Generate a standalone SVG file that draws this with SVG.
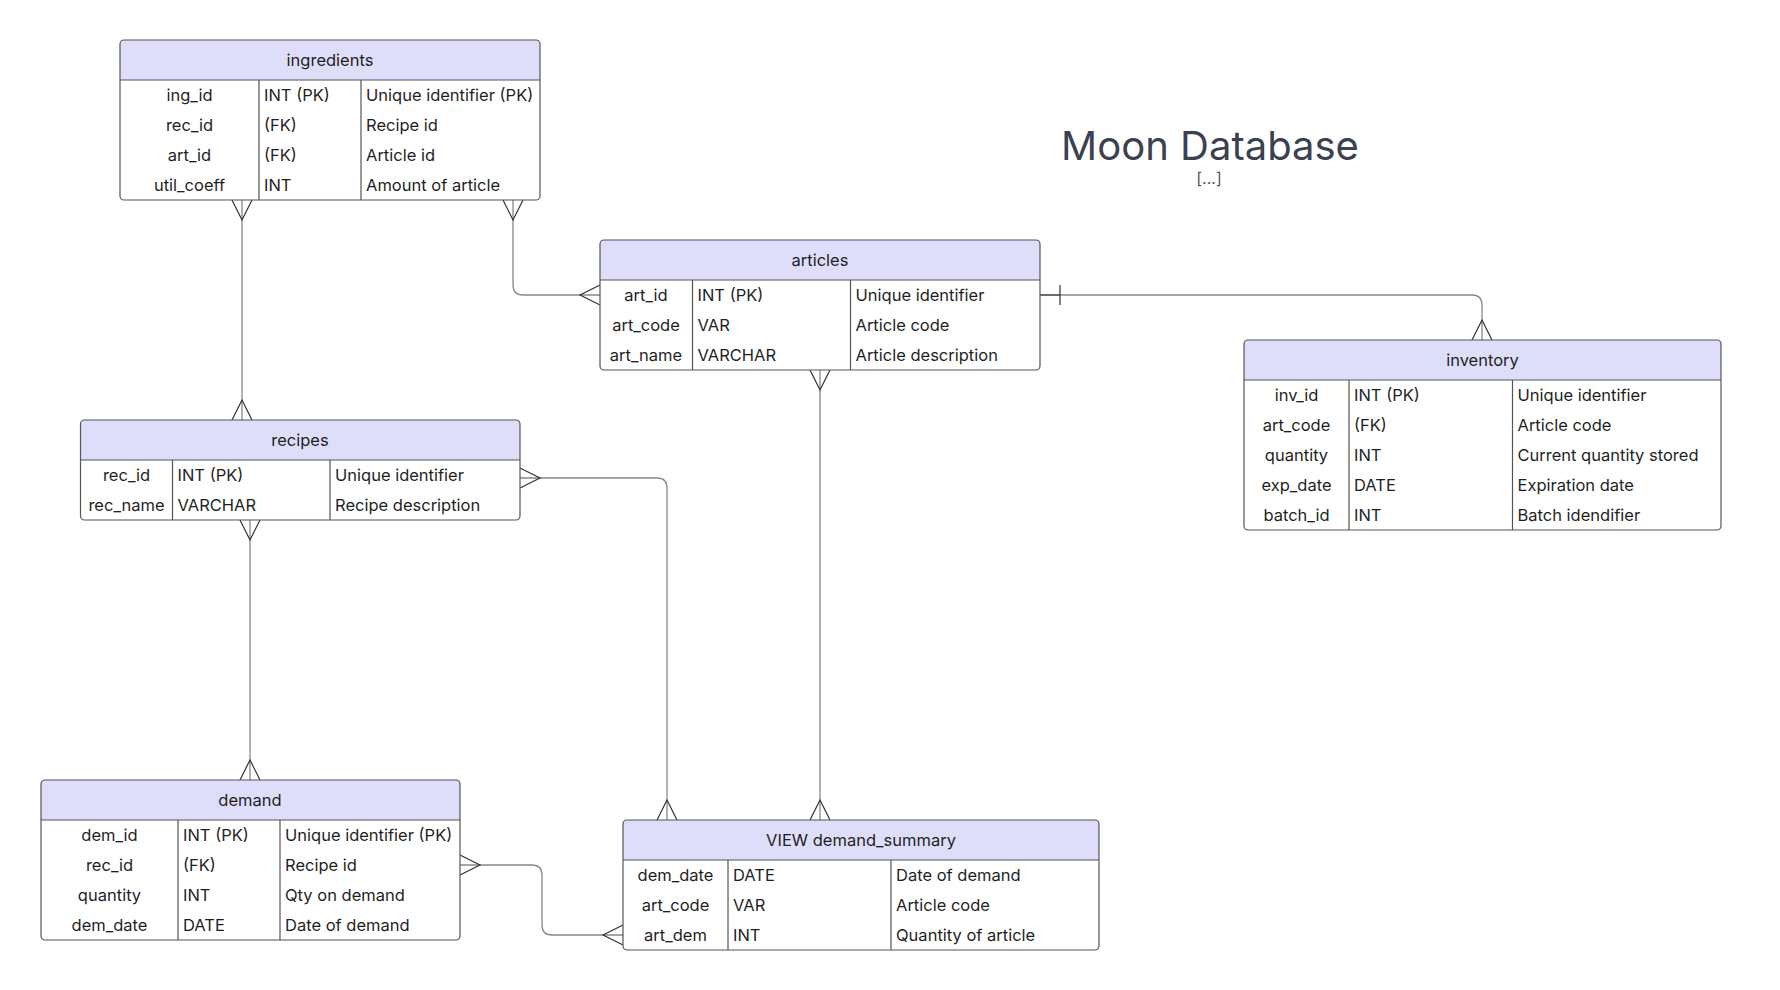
<svg xmlns="http://www.w3.org/2000/svg" width="1780" height="990" viewBox="0 0 1780 990">
<defs>
<style>
text{font-family:Inter,"Noto Sans","Liberation Sans",sans-serif;fill:#1f1f1f;}
.t{font-size:16.5px;dominant-baseline:central;}
.c{text-anchor:middle;}
.box{fill:none;stroke:#555;stroke-width:1.2;}
.body{fill:#fff;stroke:none;}
.hdr{fill:#dedefb;stroke:none;}
.sep{stroke:#555;stroke-width:1.2;fill:none;}
.ln{fill:none;stroke:#888;stroke-width:1.3;}
.mk{fill:none;stroke:#333;stroke-width:1.2;}
.title{font-size:40px;fill:#3b4150;text-anchor:middle;}
.sub{font-size:16px;fill:#555;text-anchor:middle;}
</style>
</defs>
<rect width="1780" height="990" fill="#fff"/>

<g id="title">
<text class="title" x="1210" y="160">Moon Database</text>
<text class="sub" x="1209" y="184">[...]</text>
</g>

<g id="connectors">
<!-- ingredients -> recipes -->
<path class="ln" d="M242,200 V420"/>
<path class="mk" d="M232,200 L242,220 L252,200 M232,420 L242,400 L252,420"/>
<!-- ingredients -> articles -->
<path class="ln" d="M513,200 V285 Q513,295 523,295 H600"/>
<path class="mk" d="M503,200 L513,220 L523,200 M600,285 L580,295 L600,305"/>
<!-- articles -> inventory -->
<path class="ln" d="M1040,295 H1472 Q1482,295 1482,305 V340"/>
<path class="mk" d="M1040,295 H1060 M1060,285 V305 M1472,340 L1482,320 L1492,340"/>
<!-- articles -> view -->
<path class="ln" d="M820,370 V820"/>
<path class="mk" d="M810,370 L820,390 L830,370 M810,820 L820,800 L830,820"/>
<!-- recipes -> demand -->
<path class="ln" d="M250,520 V780"/>
<path class="mk" d="M240,520 L250,540 L260,520 M240,780 L250,760 L260,780"/>
<!-- recipes -> view -->
<path class="ln" d="M520,478 H657 Q667,478 667,488 V820"/>
<path class="mk" d="M520,468 L540,478 L520,488 M657,820 L667,800 L677,820"/>
<!-- demand -> view -->
<path class="ln" d="M460,865 H532 Q542,865 542,875 V925 Q542,935 552,935 H623"/>
<path class="mk" d="M460,855 L480,865 L460,875 M623,925 L603,935 L623,945"/>
</g>

<g id="ingredients">
<rect class="body" x="120" y="40" width="420" height="160" rx="4"/>
<path class="hdr" d="M120,80 V44 Q120,40 124,40 H536 Q540,40 540,44 V80 Z"/>
<path class="sep" d="M120,80 H540 M259,80 V200 M361,80 V200"/>
<rect class="box" x="120" y="40" width="420" height="160" rx="4"/>
<text class="t c" x="330" y="60">ingredients</text>
<text class="t c" x="189.5" y="95">ing_id</text>
<text class="t c" x="189.5" y="125">rec_id</text>
<text class="t c" x="189.5" y="155">art_id</text>
<text class="t c" x="189.5" y="185">util_coeff</text>
<text class="t" x="264" y="95">INT (PK)</text>
<text class="t" x="264" y="125">(FK)</text>
<text class="t" x="264" y="155">(FK)</text>
<text class="t" x="264" y="185">INT</text>
<text class="t" x="366" y="95">Unique identifier (PK)</text>
<text class="t" x="366" y="125">Recipe id</text>
<text class="t" x="366" y="155">Article id</text>
<text class="t" x="366" y="185">Amount of article</text>
</g>

<g id="articles">
<rect class="body" x="600" y="240" width="440" height="130" rx="4"/>
<path class="hdr" d="M600,280 V244 Q600,240 604,240 H1036 Q1040,240 1040,244 V280 Z"/>
<path class="sep" d="M600,280 H1040 M692.5,280 V370 M850.5,280 V370"/>
<rect class="box" x="600" y="240" width="440" height="130" rx="4"/>
<text class="t c" x="820" y="260">articles</text>
<text class="t c" x="646" y="295">art_id</text>
<text class="t c" x="646" y="325">art_code</text>
<text class="t c" x="646" y="355">art_name</text>
<text class="t" x="697.5" y="295">INT (PK)</text>
<text class="t" x="697.5" y="325">VAR</text>
<text class="t" x="697.5" y="355">VARCHAR</text>
<text class="t" x="855.5" y="295">Unique identifier</text>
<text class="t" x="855.5" y="325">Article code</text>
<text class="t" x="855.5" y="355">Article description</text>
</g>

<g id="inventory">
<rect class="body" x="1244" y="340" width="477" height="190" rx="4"/>
<path class="hdr" d="M1244,380 V344 Q1244,340 1248,340 H1717 Q1721,340 1721,344 V380 Z"/>
<path class="sep" d="M1244,380 H1721 M1349,380 V530 M1512.5,380 V530"/>
<rect class="box" x="1244" y="340" width="477" height="190" rx="4"/>
<text class="t c" x="1482.5" y="360">inventory</text>
<text class="t c" x="1296.5" y="395">inv_id</text>
<text class="t c" x="1296.5" y="425">art_code</text>
<text class="t c" x="1296.5" y="455">quantity</text>
<text class="t c" x="1296.5" y="485">exp_date</text>
<text class="t c" x="1296.5" y="515">batch_id</text>
<text class="t" x="1354" y="395">INT (PK)</text>
<text class="t" x="1354" y="425">(FK)</text>
<text class="t" x="1354" y="455">INT</text>
<text class="t" x="1354" y="485">DATE</text>
<text class="t" x="1354" y="515">INT</text>
<text class="t" x="1517.5" y="395">Unique identifier</text>
<text class="t" x="1517.5" y="425">Article code</text>
<text class="t" x="1517.5" y="455">Current quantity stored</text>
<text class="t" x="1517.5" y="485">Expiration date</text>
<text class="t" x="1517.5" y="515">Batch idendifier</text>
</g>

<g id="recipes">
<rect class="body" x="80.5" y="420" width="439.5" height="100" rx="4"/>
<path class="hdr" d="M80.5,460 V424 Q80.5,420 84.5,420 H516 Q520,420 520,424 V460 Z"/>
<path class="sep" d="M80.5,460 H520 M172.5,460 V520 M330,460 V520"/>
<rect class="box" x="80.5" y="420" width="439.5" height="100" rx="4"/>
<text class="t c" x="300" y="440">recipes</text>
<text class="t c" x="126.5" y="475">rec_id</text>
<text class="t c" x="126.5" y="505">rec_name</text>
<text class="t" x="177.5" y="475">INT (PK)</text>
<text class="t" x="177.5" y="505">VARCHAR</text>
<text class="t" x="335" y="475">Unique identifier</text>
<text class="t" x="335" y="505">Recipe description</text>
</g>

<g id="demand">
<rect class="body" x="41" y="780" width="419" height="160" rx="4"/>
<path class="hdr" d="M41,820 V784 Q41,780 45,780 H456 Q460,780 460,784 V820 Z"/>
<path class="sep" d="M41,820 H460 M178,820 V940 M280,820 V940"/>
<rect class="box" x="41" y="780" width="419" height="160" rx="4"/>
<text class="t c" x="250" y="800">demand</text>
<text class="t c" x="109.5" y="835">dem_id</text>
<text class="t c" x="109.5" y="865">rec_id</text>
<text class="t c" x="109.5" y="895">quantity</text>
<text class="t c" x="109.5" y="925">dem_date</text>
<text class="t" x="183" y="835">INT (PK)</text>
<text class="t" x="183" y="865">(FK)</text>
<text class="t" x="183" y="895">INT</text>
<text class="t" x="183" y="925">DATE</text>
<text class="t" x="285" y="835">Unique identifier (PK)</text>
<text class="t" x="285" y="865">Recipe id</text>
<text class="t" x="285" y="895">Qty on demand</text>
<text class="t" x="285" y="925">Date of demand</text>
</g>

<g id="demand_summary">
<rect class="body" x="623" y="820" width="476" height="130" rx="4"/>
<path class="hdr" d="M623,860 V824 Q623,820 627,820 H1095 Q1099,820 1099,824 V860 Z"/>
<path class="sep" d="M623,860 H1099 M728,860 V950 M891,860 V950"/>
<rect class="box" x="623" y="820" width="476" height="130" rx="4"/>
<text class="t c" x="861" y="840">VIEW demand_summary</text>
<text class="t c" x="675.5" y="875">dem_date</text>
<text class="t c" x="675.5" y="905">art_code</text>
<text class="t c" x="675.5" y="935">art_dem</text>
<text class="t" x="733" y="875">DATE</text>
<text class="t" x="733" y="905">VAR</text>
<text class="t" x="733" y="935">INT</text>
<text class="t" x="896" y="875">Date of demand</text>
<text class="t" x="896" y="905">Article code</text>
<text class="t" x="896" y="935">Quantity of article</text>
</g>
</svg>
